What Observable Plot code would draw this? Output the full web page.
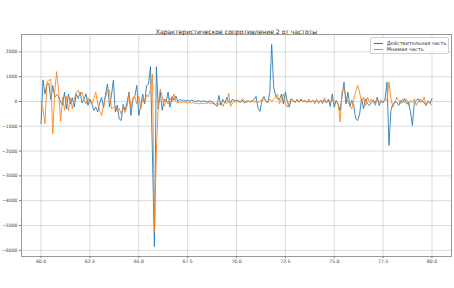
<!DOCTYPE html>
<html><head><meta charset="utf-8">
<script src="https://cdn.jsdelivr.net/npm/d3@7"></script>
<script src="https://cdn.jsdelivr.net/npm/@observablehq/plot@0.6"></script>
<style>
body{margin:0;background:#fff;}
#wrap{position:relative;width:454px;height:288px;font-family:"DejaVu Sans",sans-serif;}
#legend{position:absolute;left:370px;top:37px;width:77px;height:15px;border:0.8px solid #d0d0d0;border-radius:1.5px;background:rgba(255,255,255,0.85);font-size:5px;color:#333;}
.item{position:absolute;left:2.5px;height:6px;}
.sw{position:absolute;left:0;top:2.6px;width:9.5px;height:1px;}
.lb{position:absolute;left:13.2px;top:-0.5px;white-space:nowrap;line-height:6px;}
</style>
</head><body>
<div id="wrap"><div id="legend"></div></div>
<script>
const title = "Характеристическое сопротивление 2 от частоты";
const seriesNames = ["Действительная часть", "Мнимая часть"];
const seriesColors = ["#1f77b4", "#ff7f0e"];
const xTicks = [60, 62.5, 65, 67.5, 70, 72.5, 75, 77.5, 80];
const yTicks = [-6000, -5000, -4000, -3000, -2000, -1000, 0, 1000, 2000];
// frequency grid 60.0 .. 80.0, step 0.1
const freqStart = 60, freqStep = 0.1, freqCount = 201;

const realPart = [
  -900, 870, 310, 700, 720, 70, 640, 170, 280, 200,
  -30, -150, 375, -300, 300, -100, 150, -220, 300, 120,
  375, -60, 100, 310, -160, 100, -90, -360, -220, -420,
  -60, 170, -250, 300, 700, -220, 240, 850, -430, -150,
  -700, -770, -120, -350, -50, 380, -560, 100, 220, 650,
  -560, -200, 300, -100, 650, 700, 1400, -2200, -5850, 1400,
  -300, 375, -360, 100, -30, 375, -230, 200, 50, 215,
  0, 80, 40, 60, 20, 40, 10, 50, 30, 0,
  30, 20, -10, 30, 10, -20, 20, 0, -40, -100,
  -200, 240, -150, 80, -60, 160, -10, -60, 100, 20,
  60, 0, -40, 50, -60, 0, 40, -30, 20, 80,
  200, -270, -400, 60, 200, 0, -40, 330, 2300, 600,
  240, 100, 80, 300, -100, 380, 0, -230, 100, 30,
  -20, 60, -30, 100, 0, 40, -40, 30, -30, 40,
  -20, 50, -30, 40, -80, 60, -60, 80, -200, 300,
  -230, 40, -100, -370, 200, 780, -100, 376, -200, 40,
  -150, -700, -770, -500, 108, -296, 108, -100, -160, -30,
  60, -80, 175, -161, 40, -60, 100, 780, -1770, -360,
  -100, -27, -30, -161, 40, -50, 108, -94, -30, -400,
  -970, -27, 40, 108, -27, 40, -60, -161, 20, -80,
  108
];
const imagPart = [
  0, -300, -900, 800, 850, 900, -1300, 400, 1200, 400,
  -800, 170, -350, 200, -370, 150, -300, 100, 380, 440,
  240, 375, 100, -100, 150, -50, -80, 120, 375, -100,
  -360, -560, -150, 180, 440, 450, -300, -250, -200, -400,
  -280, -500, -250, -450, -200, 300, -250, 150, 200, -100,
  200, -300, 100, -50, 250, 200, 500, 1100, -5250, -2000,
  -100, 500, 200, -200, 100, -100, 150, -20, 300, 0,
  -60, -30, -40, -20, -40, -60, -40, -70, -50, -80,
  -60, -100, -70, -90, -60, -80, -50, -100, -60, -150,
  -60, -130, 0, -200, -20, -100, 330, -200, -60, 20,
  -40, 50, -20, 120, 30, -60, 40, -20, 60, -40,
  20, -60, 40, -20, 120, 50, -40, 100, 0, 100,
  170, 300, -94, 107, 300, -94, -230, -30, 110, 40,
  -60, 100, -30, 60, -20, 40, -30, 100, -20, 50,
  -100, 80, -90, 60, 0, 150, -50, 100, -30, 100,
  -100, 40, -100, -830, 376, 578, 200, -27, -160, -296,
  108, 400, 650, 376, -27, 175, -161, 175, -27, 108,
  -27, -161, 108, -27, 40, -27, 100, 40, 780, 108,
  -228, -27, 175, 40, -94, 108, -27, 108, -161, 40,
  -27, 108, -161, -20, 108, -27, 175, -161, 40, -60,
  -161
];

const freq = d3.range(freqCount).map(i => +(freqStart + i * freqStep).toFixed(1));
const rows = [realPart, imagPart].flatMap((arr, k) =>
  arr.map((v, i) => ({f: freq[i], v, s: seriesNames[k]})));

const fmtY = d => String(d).replace("-", "\u2212");
const chart = Plot.plot({
  width: 454, height: 288,
  marginLeft: 21, marginRight: 3, marginTop: 34, marginBottom: 32,
  style: {fontFamily: "DejaVu Sans, sans-serif", background: "white", color: "#333"},
  x: {domain: [59, 81]},
  y: {domain: [-6250, 2700]},
  marks: [
    Plot.gridX(xTicks, {stroke: "#b0b0b0", strokeOpacity: 0.45, strokeWidth: 1}),
    Plot.gridY(yTicks, {stroke: "#b0b0b0", strokeOpacity: 0.45, strokeWidth: 1}),
    Plot.axisX(xTicks, {tickSize: 2, tickPadding: 1.5, tickFormat: d => d.toFixed(1), fontSize: 4.6, label: null, stroke: "#777", fill: "#444"}),
    Plot.axisY(yTicks, {tickSize: 2, tickPadding: 2, tickFormat: fmtY, fontSize: 4.6, label: null, stroke: "#777", fill: "#444"}),
    Plot.line(rows.filter(d => d.s === seriesNames[0]), {x: "f", y: "v", stroke: seriesColors[0], strokeWidth: 0.85}),
    Plot.line(rows.filter(d => d.s === seriesNames[1]), {x: "f", y: "v", stroke: seriesColors[1], strokeWidth: 0.85}),
    Plot.frame({stroke: "#808080", strokeWidth: 0.8}),
    Plot.text([title], {frameAnchor: "top", dy: -4.5, fontSize: 6.1, fill: "#222"})
  ]
});
document.getElementById("wrap").prepend(chart);

const leg = document.getElementById("legend");
seriesNames.forEach((name, k) => {
  const it = document.createElement("div");
  it.className = "item";
  it.style.top = (2.3 + k * 6) + "px";
  it.innerHTML = `<div class="sw" style="background:${seriesColors[k]}"></div><div class="lb">${name}</div>`;
  leg.appendChild(it);
});
</script>
</body></html>
